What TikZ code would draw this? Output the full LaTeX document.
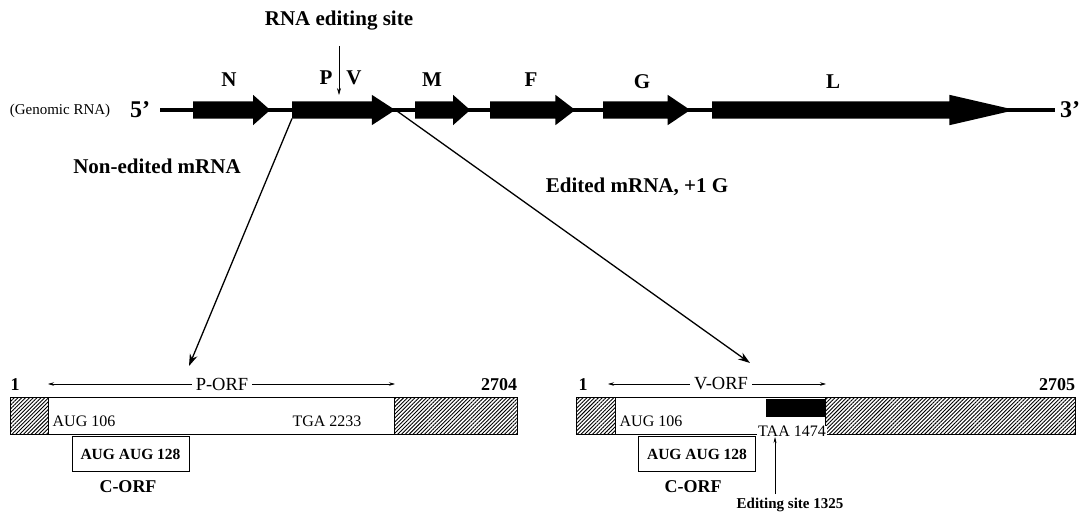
\documentclass[tikz,border=0pt]{standalone}
\usepackage{fontspec}
\setmainfont{Liberation Serif}
\usetikzlibrary{arrows.meta,positioning,shapes.arrows,patterns.meta}

\begin{document}
\begin{tikzpicture}[x=1pt,y=-1pt,
  gene/.style={single arrow,fill=black,draw=none,inner sep=0pt,inner ysep=8.5pt,
    single arrow head extend=6.5pt,anchor=tail,text height=0pt,text depth=0pt},
  big/.style={font=\fontsize{21}{23}\selectfont\bfseries,inner sep=0pt},
  num/.style={font=\fontsize{18}{20}\selectfont\bfseries,inner sep=0pt},
  orf/.style={font=\fontsize{18.5}{20}\selectfont,inner sep=0pt},
  cod/.style={font=\fontsize{16}{17}\selectfont,inner sep=0pt},
  cbox/.style={draw,line width=0.7pt,minimum width=117pt,minimum height=35pt,inner sep=0pt,
    font=\fontsize{15.5}{17}\selectfont\bfseries},
  hatch/.style={draw,line width=0.8pt,pattern={Lines[angle=45,distance=2.7pt,line width=0.9pt]}},
  tip/.style={-{Stealth[length=12pt,width=8pt]},line width=1.3pt}]
  \useasboundingbox (0,0) rectangle (1084,515);
  % genome
  \node[big] (site) at (339,21) {RNA editing site};
  \node[font=\fontsize{15}{17}\selectfont,inner sep=0pt] (genomic) at (60,111) {(Genomic RNA)};
  \node[font=\fontsize{24}{26}\selectfont\bfseries,inner sep=0pt] (five) at (140,110) {5’};
  \node[font=\fontsize{24}{26}\selectfont\bfseries,inner sep=0pt] (three) at (1070,110) {3’};
  \draw[line width=4pt] ([xshift=10pt]five.east) -- ([xshift=-5pt]three.west);
  \node[gene,minimum height=77pt,single arrow tip angle=83] (N) at (193,110) {};
  \node[gene,minimum height=103pt,single arrow tip angle=66] (P) at (292,110) {};
  \node[gene,minimum height=55pt,single arrow tip angle=83] (M) at (415,110) {};
  \node[gene,minimum height=85pt,single arrow tip angle=75] (F) at (490,110) {};
  \node[gene,minimum height=87pt,single arrow tip angle=68] (G) at (603,110) {};
  \node[gene,minimum height=303pt,single arrow tip angle=26] (L) at (712,110) {};
  \node[big] (labN) at (229,80) {N};
  \node[big] (labP) at (326,78) {P};
  \node[big] (labV) at (354,78) {V};
  \node[big] (labM) at (432,80) {M};
  \node[big] (labF) at (531,80) {F};
  \node[big] (labG) at (642,82) {G};
  \node[big] (labL) at (833,82) {L};
  \draw[-{Stealth[length=7pt,width=4pt]},line width=0.6pt] ([yshift=-15pt]site.south) -- (339,95);
  \node[big] (nonedit) at (157,166) {Non-edited mRNA};
  \node[big] (edited) at (637,187) {Edited mRNA, +1 G};
  \coordinate (pend) at (189,366);
  \coordinate (vend) at (750,363);
  \draw[tip] ([yshift=-8.5pt]P.tail) -- (pend);
  \draw[tip] (P.tip) -- (vend);
  % non-edited mRNA
  \draw[line width=0.8pt] (10,397) rectangle (517,434);
  \draw[hatch] (10,397) rectangle (48,434);
  \draw[hatch] (394,397) rectangle (517,434);
  \node[num] (one1) at (15,385) {1};
  \node[orf] (porf) at (222,384) {P-ORF};
  \node[num] (n2704) at (499,385) {2704};
  \coordinate (pl) at (48,384);
  \coordinate (pr) at (395,384);
  \draw[{Stealth[length=6pt,width=3.5pt]}-,line width=0.6pt] (pl) -- ([xshift=-4pt]porf.west);
  \draw[-{Stealth[length=6pt,width=3.5pt]},line width=0.6pt] ([xshift=4pt]porf.east) -- (pr);
  \node[cod] (aug1) at (84,421) {AUG 106};
  \node[cod] (tga) at (327,421) {TGA 2233};
  \node[cbox] (cbox1) at (130.5,454) {AUG AUG 128};
  \node[num] (corf1) at (128,487) {C-ORF};
  % edited mRNA
  \draw[line width=0.8pt] (576,397) rectangle (1075,434);
  \draw[hatch] (576,397) rectangle (615,434);
  \draw[hatch] (825,397) rectangle (1075,434);
  \fill (766,399) rectangle (825,417);
  \node[num] (one2) at (583,385) {1};
  \node[orf] (vorf) at (721,384) {V-ORF};
  \node[num] (n2705) at (1057,385) {2705};
  \coordinate (vl) at (608,384);
  \coordinate (vr) at (826,384);
  \draw[{Stealth[length=6pt,width=3.5pt]}-,line width=0.6pt] (vl) -- ([xshift=-4pt]vorf.west);
  \draw[-{Stealth[length=6pt,width=3.5pt]},line width=0.6pt] ([xshift=4pt]vorf.east) -- (vr);
  \node[cod] (aug2) at (651,421) {AUG 106};
  \node[cod,fill=white,inner xsep=1pt] (taa) at (792,431) {TAA 1474};
  \node[cbox] (cbox2) at (697,454) {AUG AUG 128};
  \node[num] (corf2) at (693,487) {C-ORF};
  \node[font=\fontsize{15}{17}\selectfont\bfseries,inner sep=0pt] (edit) at (790,505) {Editing site 1325};
  \draw[-{Stealth[length=6pt,width=3pt]},line width=0.5pt] (775,494) -- (775,437);
\end{tikzpicture}
\end{document}
